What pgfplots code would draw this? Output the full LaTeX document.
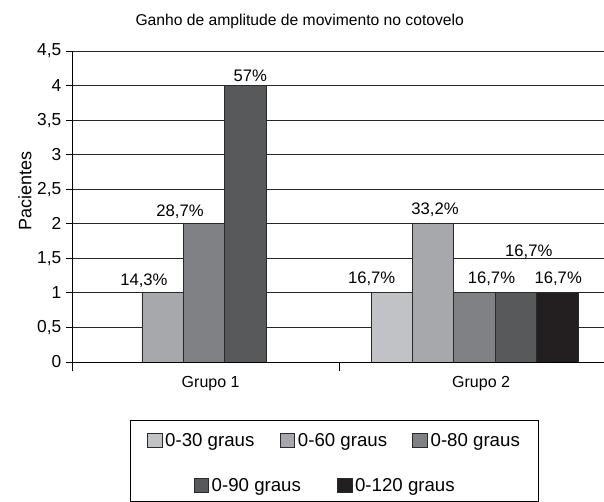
\documentclass[border=0pt]{standalone}
\usepackage{pgfplots}
\pgfplotsset{compat=1.18}
\usepackage{fontspec}
\setmainfont{Liberation Sans}
\definecolor{cA}{HTML}{C1C2C6}
\definecolor{cB}{HTML}{A7A8AC}
\definecolor{cC}{HTML}{808184}
\definecolor{cD}{HTML}{58595B}
\definecolor{cE}{HTML}{231F20}
\definecolor{edge}{HTML}{2A2A2A}
\pgfplotsset{
  sqlegend/.style={legend image code/.code={\draw[##1,draw=edge,line width=0.6pt] (0pt,-5pt) rectangle (11pt,6pt);}},
}
\begin{document}
\begin{tikzpicture}
\useasboundingbox (-54pt,-105pt) rectangle (399pt,271.5pt);
\begin{axis}[
  scale only axis, width=399pt, height=233.25pt,
  xmin=-0.488, xmax=1.479, ymin=0, ymax=4.5,
  axis x line*=bottom, axis y line*=left,
  axis line style={-, black, line width=0.6pt},
  ytick={0,0.5,1,1.5,2,2.5,3,3.5,4,4.5},
  yticklabel style={font=\fontsize{13}{15}\selectfont, /pgf/number format/.cd, use comma, fixed, precision=1, assume math mode=true},
  ymajorgrids, grid style={black!85, line width=0.6pt},
  tick align=outside, major tick length=4.5pt,
  tick style={black, line width=0.6pt},
  xtick={0,1}, xticklabels={Grupo 1,Grupo 2},
  xtick style={draw=none},
  extra x ticks={-0.488,0.5}, extra x tick labels={},
  extra x tick style={xtick style={draw=black, line width=0.6pt}, major tick length=7pt, grid=none},
  xticklabel style={font=\fontsize{12}{14}\selectfont, yshift=-3pt, xshift=5pt},
  ylabel={Pacientes},
  ylabel style={at={(axis description cs:-0.0883,0.55)}, anchor=center, font=\fontsize{13.5}{15}\selectfont},
  title={Ganho de amplitude de movimento no cotovelo},
  title style={at={(axis description cs:0.428,1)}, anchor=base, yshift=12.75pt, font=\fontsize{11.75}{14}\selectfont},
  ybar, bar width=0.153,
  nodes near coords, point meta=explicit symbolic,
  visualization depends on={value \thisrow{dx} \as \dx},
  visualization depends on={value \thisrow{dy} \as \dy},
  every node near coord/.append style={font=\fontsize{12.5}{14}\selectfont, xshift=\dx pt, yshift=\dy pt, black},
  sqlegend,
  legend columns=3,
  legend style={at={(axis description cs:0.494,-0.254)}, anchor=center, draw=none, fill=none,
    font=\fontsize{14}{16}\selectfont, inner xsep=0pt,
    nodes={inner xsep=2pt},
    /tikz/every even column/.append style={column sep=17pt}},
  legend cell align=left,
]
\addplot[fill=cA, draw=edge, line width=0.6pt, bar shift=-0.306] table[x=x, y=y, meta=lab] {
x y lab dx dy
1 1 16,7\% -15 1.5
};
\addplot[fill=cB, draw=edge, line width=0.6pt, bar shift=-0.153] table[x=x, y=y, meta=lab] {
x y lab dx dy
0 1 14,3\% -14 0.5
1 2 33,2\% 1.5 1.5
};
\addplot[fill=cC, draw=edge, line width=0.6pt, bar shift=0] table[x=x, y=y, meta=lab] {
x y lab dx dy
0 2 28,7\% -18 0.5
1 1 16,7\% 12.75 1.5
};
\addplot[fill=cD, draw=edge, line width=0.6pt, bar shift=0.153] table[x=x, y=y, meta=lab] {
x y lab dx dy
0 4 57\% 3.75 -0.5
1 1 16,7\% 9.75 22
};
\addplot[fill=cE, draw=edge, line width=0.6pt, bar shift=0.306] table[x=x, y=y, meta=lab] {
x y lab dx dy
1 1 16,7\% 0.75 1.5
};
\legend{0-30 graus,0-60 graus,0-80 graus}
\end{axis}
\begin{axis}[
  scale only axis, width=399pt, height=233.25pt,
  hide axis, xmin=0, xmax=1, ymin=0, ymax=1,
  sqlegend,
  legend columns=2,
  legend style={at={(axis description cs:0.4765,-0.399)}, anchor=center, draw=none, fill=none,
    font=\fontsize{14}{16}\selectfont, inner xsep=0pt,
    nodes={inner xsep=2pt},
    /tikz/every even column/.append style={column sep=25pt}},
  legend cell align=left,
]
\addlegendimage{fill=cD, draw=edge}
\addlegendentry{0-90 graus}
\addlegendimage{fill=cE, draw=edge}
\addlegendentry{0-120 graus}
\end{axis}
\draw[line width=0.6pt, black] (43.5pt,-43.5pt) rectangle (349.5pt,-104.6pt);
\end{tikzpicture}
\end{document}
